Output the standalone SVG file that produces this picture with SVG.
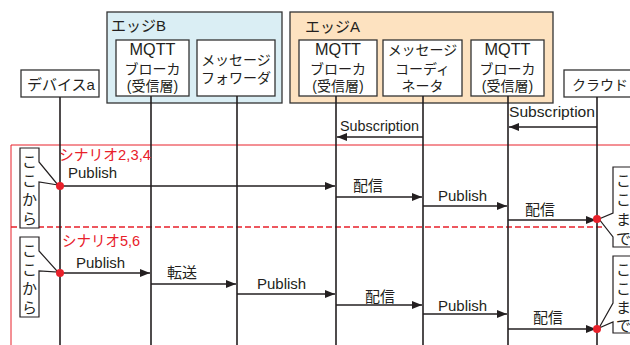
<svg xmlns="http://www.w3.org/2000/svg" width="630" height="345" viewBox="0 0 630 345">
<defs>
<style>
text{font-family:"Liberation Sans","Noto Sans CJK JP",sans-serif;fill:#231f20;}
.box{fill:#fff;stroke:#333;stroke-width:1.3;}
.grp{stroke:#333;stroke-width:1.3;}
.life{stroke:#231f20;stroke-width:1.6;fill:none;}
.msg{stroke:#231f20;stroke-width:1.6;fill:none;marker-end:url(#ah);}
.t15{font-size:15px;}
.t14{font-size:14px;}
.red{fill:#e8202a;}
.callout{fill:#fff;stroke:#231f20;stroke-width:1.2;}
.c{text-anchor:middle;}
</style>
<marker id="ah" viewBox="0 0 10 8" refX="10" refY="4" markerWidth="10" markerHeight="8" markerUnits="userSpaceOnUse" orient="auto">
<path d="M0,0 L10,4 L0,8 Z" fill="#231f20"/>
</marker>
</defs>

<g id="frame">
<path d="M630,145 H11 V345" fill="none" stroke="#e8202a" stroke-width="1"/>
<line x1="11" y1="227" x2="606" y2="227" stroke="#e8202a" stroke-width="1.5" stroke-dasharray="6,3"/>
</g>

<g id="edgeB">
<rect class="grp" x="107" y="12" width="175" height="91" fill="#daeef4"/>
<text class="t15" x="111" y="31">エッジB</text>
</g>
<g id="edgeA">
<rect class="grp" x="290" y="12" width="263" height="91" fill="#fde2c0"/>
<text class="t15" x="305" y="32">エッジA</text>
</g>

<g id="deviceA">
<rect class="box" x="21" y="70" width="78" height="27"/>
<text class="t15" x="27" y="90">デバイスa</text>
</g>
<g id="mqttB">
<rect class="box" x="116" y="40" width="73" height="56"/>
<text class="c" x="152.5" y="55" font-size="16" textLength="46" lengthAdjust="spacingAndGlyphs">MQTT</text>
<text class="t14 c" x="152.5" y="74">ブローカ</text>
<text class="t14 c" x="152.5" y="91">(受信層)</text>
</g>
<g id="forwarder">
<rect class="box" x="197" y="40" width="78" height="56"/>
<text class="t14 c" x="236" y="65">メッセージ</text>
<text class="t14 c" x="236" y="83">フォワーダ</text>
</g>
<g id="mqttA">
<rect class="box" x="299" y="40" width="78" height="56"/>
<text class="c" x="338" y="55" font-size="16" textLength="46" lengthAdjust="spacingAndGlyphs">MQTT</text>
<text class="t14 c" x="338" y="74">ブローカ</text>
<text class="t14 c" x="338" y="91">(受信層)</text>
</g>
<g id="coordinator">
<rect class="box" x="383" y="40" width="79" height="56"/>
<text class="t14 c" x="422.5" y="55">メッセージ</text>
<text class="t14 c" x="422.5" y="74">コーディ</text>
<text class="t14 c" x="422.5" y="91">ネータ</text>
</g>
<g id="mqttA2">
<rect class="box" x="471" y="40" width="73" height="56"/>
<text class="c" x="507.5" y="55" font-size="16" textLength="46" lengthAdjust="spacingAndGlyphs">MQTT</text>
<text class="t14 c" x="507.5" y="74">ブローカ</text>
<text class="t14 c" x="507.5" y="91">(受信層)</text>
</g>
<g id="cloud">
<rect class="box" x="564" y="70" width="70" height="27"/>
<text class="t14" x="572" y="90">クラウド</text>
</g>

<g id="lifelines">
<line class="life" x1="60" y1="97" x2="60" y2="345"/>
<line class="life" x1="151" y1="96" x2="151" y2="345"/>
<line class="life" x1="237" y1="96" x2="237" y2="345"/>
<line class="life" x1="336" y1="96" x2="336" y2="345"/>
<line class="life" x1="423" y1="96" x2="423" y2="345"/>
<line class="life" x1="508" y1="96" x2="508" y2="345"/>
<line class="life" x1="597" y1="97" x2="597" y2="345"/>
</g>

<g id="connectors">
<line class="msg" x1="423" y1="137" x2="337" y2="137"/>
<text x="340" y="131" font-size="14" textLength="79" lengthAdjust="spacingAndGlyphs">Subscription</text>
<line class="msg" x1="597" y1="127" x2="509" y2="127"/>
<text x="509" y="117" font-size="15" textLength="86" lengthAdjust="spacingAndGlyphs">Subscription</text>

<text class="red" x="59" y="160" font-size="15" textLength="92" lengthAdjust="spacingAndGlyphs">シナリオ2,3,4</text>
<text class="t15" x="68" y="178">Publish</text>
<line class="msg" x1="60" y1="186" x2="335" y2="186"/>
<text class="t15" x="353" y="191">配信</text>
<line class="msg" x1="336" y1="197" x2="422" y2="197"/>
<text class="t15" x="438" y="201">Publish</text>
<line class="msg" x1="423" y1="206" x2="507" y2="206"/>
<text class="t15" x="525" y="215">配信</text>
<line class="msg" x1="508" y1="220" x2="596" y2="220"/>

<text class="red" x="62" y="246" font-size="15" textLength="78" lengthAdjust="spacingAndGlyphs">シナリオ5,6</text>
<text class="t15" x="76" y="268">Publish</text>
<line class="msg" x1="60" y1="273" x2="150" y2="273"/>
<text class="t15" x="167" y="278">転送</text>
<line class="msg" x1="151" y1="284" x2="236" y2="284"/>
<text class="t15" x="257" y="289">Publish</text>
<line class="msg" x1="237" y1="294" x2="335" y2="294"/>
<text class="t15" x="365" y="302">配信</text>
<line class="msg" x1="336" y1="305" x2="422" y2="305"/>
<text class="t15" x="438" y="311">Publish</text>
<line class="msg" x1="423" y1="314" x2="507" y2="314"/>
<text class="t15" x="533" y="323">配信</text>
<line class="msg" x1="508" y1="329" x2="596" y2="329"/>
</g>

<g id="callout-left-1">
<path class="callout" d="M20,148 H39 V162 L58,185 L39,182 V228 H20 Z"/>
<text class="t15 c" x="29.5" y="167">こ</text>
<text class="t15 c" x="29.5" y="186">こ</text>
<text class="t15 c" x="29.5" y="205">か</text>
<text class="t15 c" x="29.5" y="224">ら</text>
<circle cx="60" cy="186" r="4" fill="#e8202a"/>
</g>
<g id="callout-left-2">
<path class="callout" d="M20,237 H39 V251 L58,272 L39,271 V317 H20 Z"/>
<text class="t15 c" x="29.5" y="256">こ</text>
<text class="t15 c" x="29.5" y="275">こ</text>
<text class="t15 c" x="29.5" y="294">か</text>
<text class="t15 c" x="29.5" y="313">ら</text>
<circle cx="60" cy="273" r="4" fill="#e8202a"/>
</g>
<g id="callout-right-1">
<path class="callout" d="M640,167 H613 V213 L599,219 L613,237 V247 H640"/>
<text class="t15" x="616" y="186">こ</text>
<text class="t15" x="616" y="205">こ</text>
<text class="t15" x="616" y="225">ま</text>
<text class="t15" x="616" y="244">で</text>
<circle cx="597" cy="219" r="4" fill="#e8202a"/>
</g>
<g id="callout-right-2">
<path class="callout" d="M640,256 H613 V303 L599,328 L613,322 V333 H640"/>
<text class="t15" x="616" y="275">こ</text>
<text class="t15" x="616" y="294">こ</text>
<text class="t15" x="616" y="313">ま</text>
<text class="t15" x="616" y="331">で</text>
<circle cx="597" cy="329" r="4" fill="#e8202a"/>
</g>
</svg>
